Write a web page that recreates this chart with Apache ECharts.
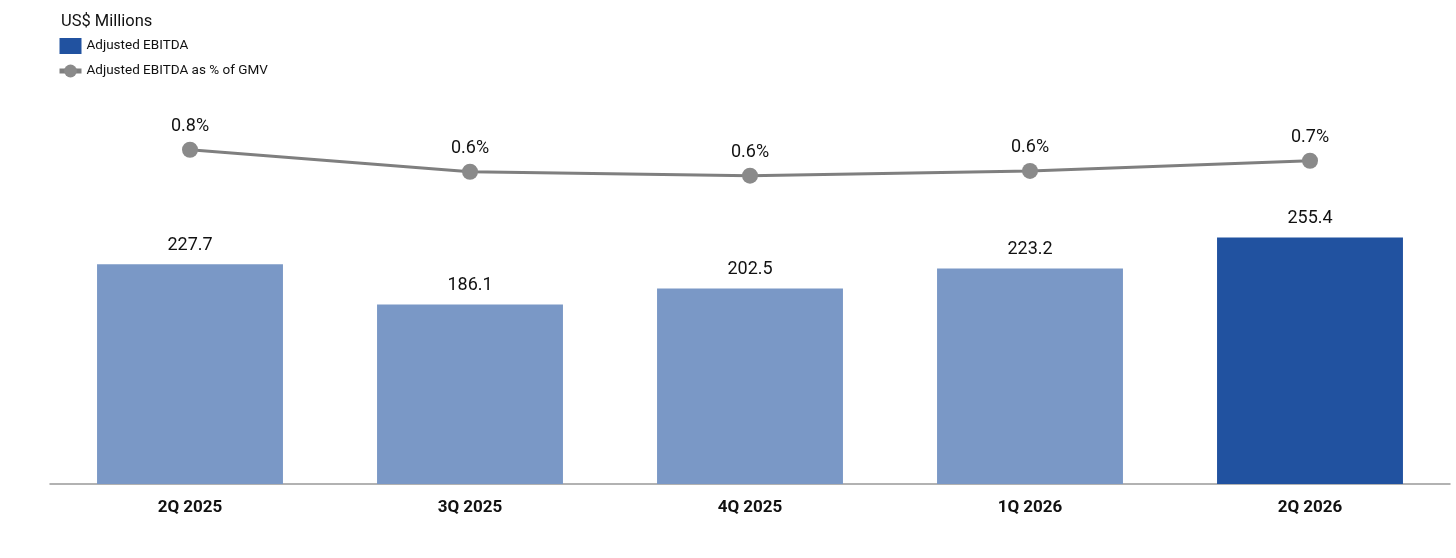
<!DOCTYPE html>
<html>
<head>
<meta charset="utf-8">
<script src="https://cdn.jsdelivr.net/npm/echarts@6/dist/echarts.min.js"></script>
<style>
  html, body { margin: 0; padding: 0; background: #fff; }
  #main { width: 1456px; height: 558px; }
</style>
</head>
<body>
<div id="main"></div>
<script>
const quarters = ["2Q 2025", "3Q 2025", "4Q 2025", "1Q 2026", "2Q 2026"];
const ebitda = [227.7, 186.1, 202.5, 223.2, 255.4];
const ebitdaPctGmv = [0.78, 0.64, 0.615, 0.645, 0.71];

const lightBlue = "#7a98c6";
const darkBlue = "#2152a0";

const chart = echarts.init(document.getElementById("main"));

chart.setOption({
  animation: false,
  textStyle: { fontFamily: "Roboto" },
  title: {
    text: "US$ Millions",
    left: 56,
    top: 8,
    textStyle: { fontSize: 16.5, fontWeight: "normal", color: "#111" }
  },
  legend: {
    orient: "vertical",
    left: 57,
    top: 38,
    padding: 0,
    itemGap: 10,
    itemWidth: 22,
    itemHeight: 16,
    textStyle: { fontSize: 13.5, color: "#111" },
    data: [
      { name: "Adjusted EBITDA", icon: "rect" },
      { name: "Adjusted EBITDA as % of GMV", lineStyle: { width: 5 } }
    ]
  },
  grid: { left: 50, right: 6, top: 98, bottom: 74 },
  xAxis: {
    type: "category",
    data: quarters,
    axisTick: { show: false },
    axisLine: { lineStyle: { color: "#999", width: 1.5 } },
    axisLabel: { color: "#111", fontSize: 17, fontWeight: "bold", margin: 15 }
  },
  yAxis: [
    { type: "value", min: 0, max: 400, show: false },
    { type: "value", min: -1.35, max: 1.11, show: false }
  ],
  series: [
    {
      name: "Adjusted EBITDA",
      type: "bar",
      barWidth: "66.4%",
      itemStyle: { color: darkBlue },
      data: ebitda.map((v, i) => ({
        value: v,
        itemStyle: { color: i < ebitda.length - 1 ? lightBlue : darkBlue }
      })),
      label: {
        show: true,
        position: "top",
        distance: 10,
        fontSize: 18,
        color: "#111",
        formatter: p => p.value.toFixed(1)
      }
    },
    {
      name: "Adjusted EBITDA as % of GMV",
      type: "line",
      yAxisIndex: 1,
      data: ebitdaPctGmv,
      symbol: "circle",
      symbolSize: 16,
      lineStyle: { color: "#7f7f7f", width: 3 },
      itemStyle: { color: "#8a8a8a" },
      label: {
        show: true,
        position: "top",
        distance: 6,
        fontSize: 18,
        color: "#111",
        formatter: p => p.value.toFixed(1) + "%"
      }
    }
  ]
});
</script>
</body>
</html>
